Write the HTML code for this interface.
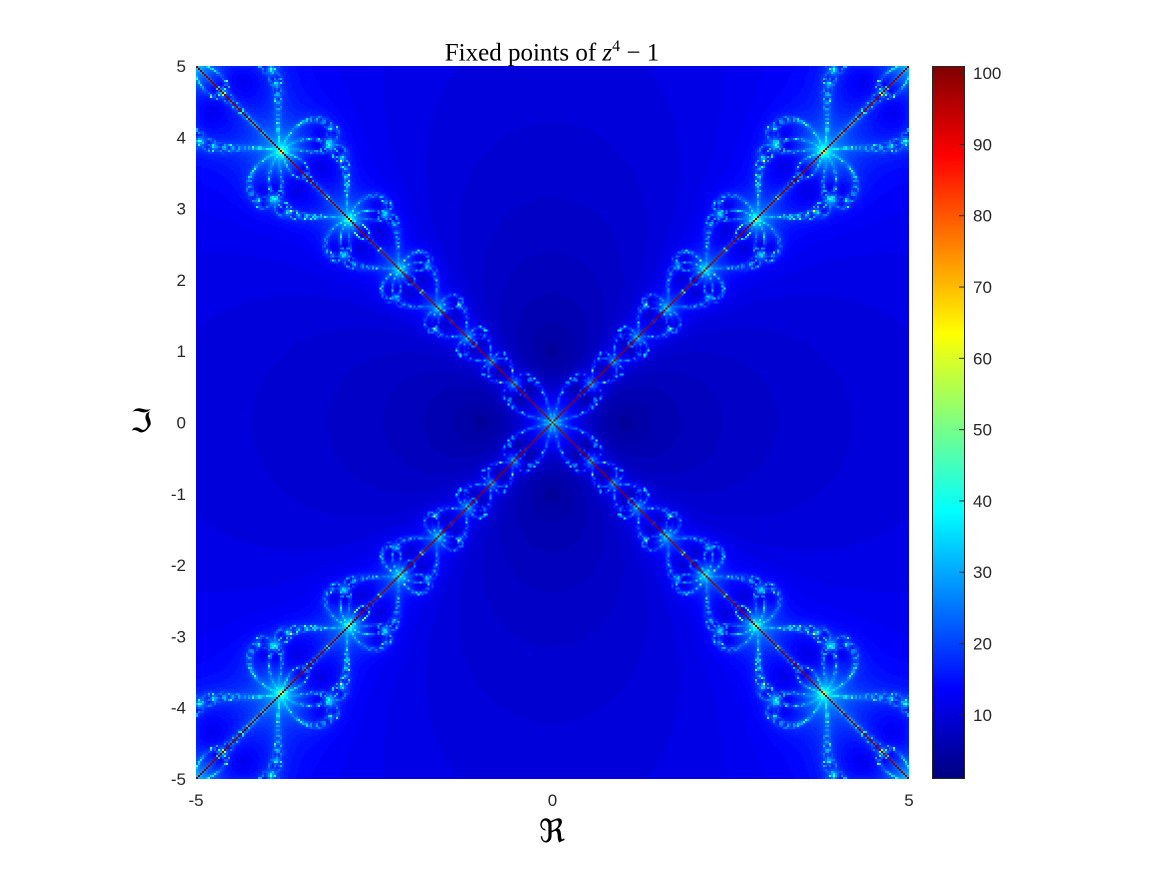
<!DOCTYPE html>
<html><head><meta charset="utf-8"><style>
html,body{margin:0;padding:0;background:#fff;width:1167px;height:875px;overflow:hidden;font-family:"Liberation Sans",sans-serif;}
#wrap{position:relative;width:1167px;height:875px;}
canvas{position:absolute;image-rendering:pixelated;}
.t{position:absolute;font-size:17px;color:#262626;white-space:nowrap;}
</style></head><body>
<div id="wrap">
<div class="t" style="left:552px;top:32px;transform:translateX(-50%);font-family:'Liberation Serif',serif;font-size:25px;line-height:29px;color:#000">Fixed points of <i>z</i><sup style="font-size:16px">4</sup> − 1</div>
<canvas id="plot" width="357" height="357" style="left:196px;top:66px;width:713px;height:713px"></canvas>
<canvas id="cbar" width="1" height="713" style="left:932px;top:66px;width:33px;height:713px"></canvas>
<svg id="ov" width="1167" height="875" style="position:absolute;left:0;top:0"></svg>
<div class="t" style="left:552px;top:812px;transform:translateX(-50%);font-family:'DejaVu Serif',serif;font-size:32px;color:#000">ℜ</div>
<div class="t" style="left:141px;top:421px;transform:translate(-50%,-50%);font-family:'DejaVu Serif',serif;font-size:32px;color:#000">ℑ</div>
</div>
<script>
const xTicks=[-5,0,5];
const yTicks=[5,4,3,2,1,0,-1,-2,-3,-4,-5];
const cbTicks=[10,20,30,40,50,60,70,80,90,100];
const cMin=1, cMax=101, maxIter=100, tol=1e-6, N=357;
const L=196,T=66,S=713,CX=932,CW=33;
function jet(t){t=Math.max(0,Math.min(1,t));
 const f=v=>Math.round(255*Math.max(0,Math.min(1,v)));
 return [f(1.5-Math.abs(4*t-3)),f(1.5-Math.abs(4*t-2)),f(1.5-Math.abs(4*t-1))];}
function iters(x,y,diag){
 if(diag) return maxIter;
 let n=0;
 for(n=1;n<=maxIter;n++){
  const x2=x*x-y*y, y2=2*x*y;
  const x3=x2*x-y2*y, y3=x2*y+y2*x;
  const x4=x3*x-y3*y, y4=x3*y+y3*x;
  const nr=3*x4+1, ni=3*y4, dr=4*x3, di=4*y3;
  const d=dr*dr+di*di; if(d===0) return maxIter;
  const zr=(nr*dr+ni*di)/d, zi=(ni*dr-nr*di)/d;
  const dx=zr-x, dy=zi-y; x=zr;y=zi;
  if(dx*dx+dy*dy<tol*tol) return n;
 }
 return maxIter;
}
const pc=document.getElementById('plot').getContext('2d');
const img=pc.createImageData(N,N);
for(let j=0;j<N;j++)for(let i=0;i<N;i++){
 const x=-5+10*i/(N-1), y=5-10*j/(N-1);
 const diag=(i===j)||(i+j===N-1);
 const c=jet((iters(x,y,diag)-cMin)/(cMax-cMin));
 const k=4*(j*N+i); img.data[k]=c[0];img.data[k+1]=c[1];img.data[k+2]=c[2];img.data[k+3]=255;
}
pc.putImageData(img,0,0);
const cc=document.getElementById('cbar').getContext('2d');
for(let j=0;j<713;j++){const c=jet(1-j/712);cc.fillStyle=`rgb(${c[0]},${c[1]},${c[2]})`;cc.fillRect(0,j,1,1);}
const ov=document.getElementById('ov'),NS='http://www.w3.org/2000/svg';
const xs=v=>L+(v+5)/10*S, ys=v=>T+(5-v)/10*S, cs=v=>T+(cMax-v)/(cMax-cMin)*S;
function el(tag,a){const e=document.createElementNS(NS,tag);for(const k in a)e.setAttribute(k,a[k]);ov.appendChild(e);return e;}
let r=el('rect',{x:CX+0.5,y:T+0.5,width:CW-1,height:S-1,fill:'none',stroke:'#262626','stroke-width':1});


xTicks.forEach(v=>{const t=el('text',{x:xs(v),y:806,'text-anchor':'middle','font-size':17,fill:'#262626','font-family':'Liberation Sans'});t.textContent=v;
 
 });
yTicks.forEach(v=>{const t=el('text',{x:186,y:ys(v)+6,'text-anchor':'end','font-size':17,fill:'#262626','font-family':'Liberation Sans'});t.textContent=v;
 
 });
cbTicks.forEach(v=>{const y=cs(v);
 const ln=el('line',{x1:CX+CW-6,x2:CX+CW,y1:y,y2:y,stroke:'#262626'});
 
 
 const t=el('text',{x:CX+CW+8,y:y+6,'font-size':17,fill:'#262626','font-family':'Liberation Sans'});t.textContent=v;
 
 });
</script>
</body></html>
